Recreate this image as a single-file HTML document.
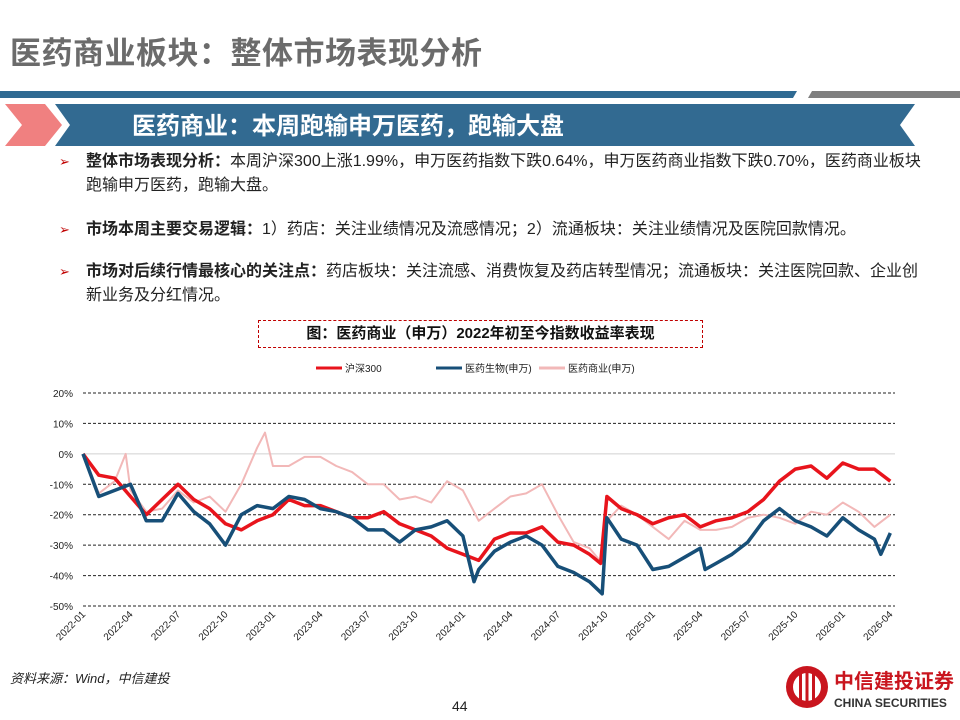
<!DOCTYPE html>
<html><head><meta charset="utf-8">
<style>
body{margin:0;width:960px;height:720px;overflow:hidden;background:#fff;font-family:"Liberation Sans","Noto Sans CJK SC",sans-serif;position:relative}
.abs{position:absolute}
.title{left:10px;top:28px;font-size:31px;font-weight:bold;color:#6b6b6b;letter-spacing:0.5px}
.bul{left:86px;font-size:16px;color:#222;line-height:24px;width:870px}
.bul b{font-weight:bold}
.arrow{position:absolute;left:-27px;top:0;color:#c00000;font-size:13px}
</style></head><body>
<div class="abs title">医药商业板块：整体市场表现分析</div>
<svg class="abs" style="left:0;top:88px" width="960" height="60">
<polygon points="0,3 797,3 793,10 0,10" fill="#2f6a92"/>
<polygon points="812,3 960,3 960,10 808,10" fill="#7f7f7f"/>
<polygon points="5,16 45,16 62,37 45,58 5,58 22,37" fill="#f08080"/>
<polygon points="55,16 915,16 900,37 915,58 55,58 70,37" fill="#326a91"/>
<text x="132" y="46" font-size="24" font-weight="bold" fill="#fff" font-family="Liberation Sans, Noto Sans CJK SC, sans-serif">医药商业：本周跑输申万医药，跑输大盘</text>
</svg>
<div class="abs bul" style="top:150px"><span class="arrow">➢</span><b>整体市场表现分析：</b>本周沪深300上涨1.99%，申万医药指数下跌0.64%，申万医药商业指数下跌0.70%，医药商业板块<br>跑输申万医药，跑输大盘。</div>
<div class="abs bul" style="top:218px"><span class="arrow">➢</span><b>市场本周主要交易逻辑：</b>1）药店：关注业绩情况及流感情况；2）流通板块：关注业绩情况及医院回款情况。</div>
<div class="abs bul" style="top:260px"><span class="arrow">➢</span><b>市场对后续行情最核心的关注点：</b>药店板块：关注流感、消费恢复及药店转型情况；流通板块：关注医院回款、企业创<br>新业务及分红情况。</div>
<div class="abs" style="left:258px;top:320px;width:443px;height:26px;border:1.5px dashed #c00000;text-align:center;font-size:15px;font-weight:bold;line-height:26px;color:#111">图：医药商业（申万）2022年初至今指数收益率表现</div>
<svg id="chart" class="abs" style="left:0;top:350px" width="960" height="300"></svg>
<div class="abs" style="left:10px;top:668px;font-size:13px;font-style:italic;color:#222">资料来源：Wind，中信建投</div>
<div class="abs" style="left:452px;top:698px;font-size:14px;color:#222">44</div>
<svg class="abs" style="left:784px;top:660px" width="176" height="56">
<circle cx="23" cy="27" r="21" fill="#c9151e"/><circle cx="23" cy="27" r="14" fill="#fff"/><rect x="15" y="14" width="3" height="26" fill="#c9151e"/><rect x="21.5" y="12" width="3" height="30" fill="#c9151e"/><rect x="28" y="14" width="3" height="26" fill="#c9151e"/>
<text x="50" y="28" font-size="20" font-weight="bold" fill="#c9151e" font-family="Liberation Sans, Noto Sans CJK SC, sans-serif">中信建投证券</text>
<text x="50" y="47" font-size="12" font-weight="bold" fill="#333" font-family="Liberation Sans, sans-serif">CHINA SECURITIES</text>
</svg>
<script>
const tickLabels=["20%","10%","0%","-10%","-20%","-30%","-40%","-50%"];
const tickValues=[20,10,0,-10,-20,-30,-40,-50];
const xTickLabels=["2022-01","2022-04","2022-07","2022-10","2023-01","2023-04","2023-07","2023-10","2024-01","2024-04","2024-07","2024-10","2025-01","2025-04","2025-07","2025-10","2026-01","2026-04"];
const seriesNames=["沪深300","医药生物(申万)","医药商业(申万)"];
// months since 2022-01
const hsT=[0,1,2,3,4,5,6,7,8,9,10,11,12,13,14,15,16,17,18,19,20,21,22,23,24,25,26,27,28,29,30,31,32,32.7,33.1,34,35,36,37,38,39,40,41,42,43,44,45,46,47,48,49,50,51];
const hsV=[0,-7,-8,-14,-20,-15,-10,-15,-18,-23,-25,-22,-20,-15,-17,-17,-19,-21,-21,-19,-23,-25,-27,-31,-33,-35,-28,-26,-26,-24,-29,-30,-33,-36,-14,-18,-20,-23,-21,-20,-24,-22,-21,-19,-15,-9,-5,-4,-8,-3,-5,-5,-9];
const bioT=[0,1,2,3,4,5,6,7,8,9,10,11,12,13,14,15,16,17,18,19,20,21,22,23,24,24.7,25,26,27,28,29,30,31,32,32.8,33.1,34,35,36,37,38,39,39.3,40,41,42,43,44,45,46,47,48,49,50,50.4,51];
const bioV=[0,-14,-12,-10,-22,-22,-13,-19,-23,-30,-20,-17,-18,-14,-15,-18,-19,-21,-25,-25,-29,-25,-24,-22,-27,-42,-38,-32,-29,-27,-30,-37,-39,-42,-46,-21,-28,-30,-38,-37,-34,-31,-38,-36,-33,-29,-22,-18,-22,-24,-27,-21,-25,-28,-33,-26];
const pharT=[0,1,2,2.7,3,4,5,6,7,8,9,10,11,11.5,12,13,14,15,16,17,18,19,20,21,22,23,24,25,26,27,28,29,30,31,32,32.8,33.1,34,35,36,37,38,39,40,41,42,43,44,45,46,47,48,49,50,51];
const pharV=[0,-13,-9,0,-12,-19,-18,-12,-16,-14,-19,-10,2,7,-4,-4,-1,-1,-4,-6,-10,-10,-15,-14,-16,-9,-12,-22,-18,-14,-13,-10,-20,-29,-31,-36,-22,-17,-20,-24,-28,-22,-25,-25,-24,-21,-20,-21,-23,-19,-20,-16,-19,-24,-20];
const svg=document.getElementById('chart');
const NS='http://www.w3.org/2000/svg';
const X0=83,X1=895,M0=0,M1=51.3;
function xs(m){return X0+(m-M0)/(M1-M0)*(X1-X0);}
function ys(v){return 43+(20-v)/70*213;}
function mk(tag,attrs){const e=document.createElementNS(NS,tag);for(const k in attrs)e.setAttribute(k,attrs[k]);svg.appendChild(e);return e;}
tickValues.forEach((v,i)=>{
 const g=mk('line',{x1:X0,x2:X1,y1:ys(v),y2:ys(v),stroke:v===0?'#d0d0d0':'#222','stroke-width':1,'stroke-dasharray':v===0?'':'3,2'});
 
 
 const t=mk('text',{x:73,y:ys(v)+4,'text-anchor':'end','font-size':10,fill:'#222'});
 t.textContent=tickLabels[i];
 
 
});
xTickLabels.forEach((l,i)=>{
 const x=xs(i*3)+3;
 const t=mk('text',{x:x,y:265,'text-anchor':'end','font-size':10,fill:'#222',transform:'rotate(-45 '+x+' 265)'});
 t.textContent=l;
 
 
});
function line(T,V,color,w,name){
 const d=T.map((m,i)=>(i?'L':'M')+xs(m).toFixed(1)+','+ys(V[i]).toFixed(1)).join('');
 const p=mk('path',{d:d,fill:'none',stroke:color,'stroke-width':w,'stroke-linejoin':'round'});
 
 
}
line(pharT,pharV,'#f2b8b8',2,'line-pharma-commerce');
line(hsT,hsV,'#e8141c',3.5,'line-hs300');
line(bioT,bioV,'#174f78',3.5,'line-biomedicine');
const legC=['#e8141c','#174f78','#f2b8b8'];const legX=[316,436,539];
seriesNames.forEach((n,i)=>{
 const l=mk('line',{x1:legX[i],x2:legX[i]+26,y1:18,y2:18,stroke:legC[i],'stroke-width':3});
 
 
 const t=mk('text',{x:legX[i]+29,y:22,'font-size':10,fill:'#222'});
 t.textContent=n;
 
 
});
</script>
</body></html>
